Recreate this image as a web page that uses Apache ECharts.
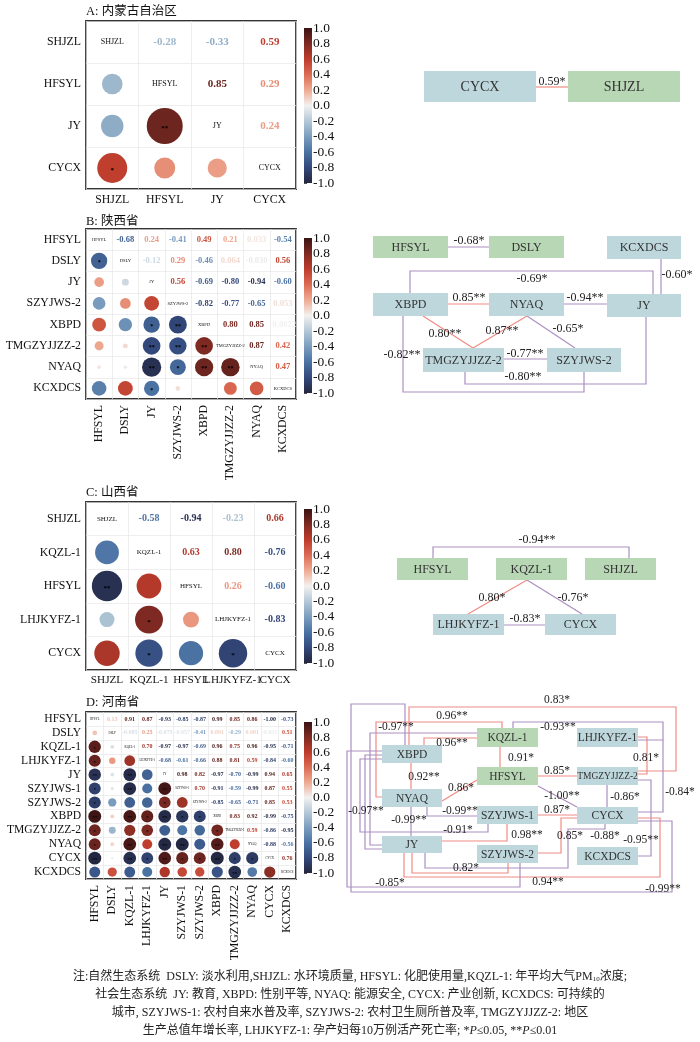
<!DOCTYPE html>
<html><head><meta charset="utf-8"><title>chart</title>
<script src="https://cdn.jsdelivr.net/npm/echarts@6.0.0/dist/echarts.min.js"></script>
<style>html,body{margin:0;padding:0;background:#fff;}#chart{width:700px;height:1042px;}</style>
</head><body><div id="chart"></div>
<script>
// ===================== DATA =====================
const varsA = ['SHJZL','HFSYL','JY','CYCX'];
const corrA = [[],[-0.28],[-0.33,0.85],[0.59,0.29,0.24]];
const sigA  = [[],[''],['','**'],['*','','']];

const varsB = ['HFSYL','DSLY','JY','SZYJWS-2','XBPD','TMGZYJJZZ-2','NYAQ','KCXDCS'];
const corrB = [[],[-0.68],[0.24,-0.12],[-0.41,0.29,0.56],[0.49,-0.46,-0.69,-0.82],
  [0.21,0.064,-0.80,-0.77,0.80],[0.033,-0.030,-0.94,-0.65,0.85,0.87],
  [-0.54,0.56,-0.60,0.053,-0.0022,0.42,0.47]];
const sigB = [[],['*'],['',''],['','',''],['','','*','**'],['','','**','**','**'],
  ['','','**','*','**','**'],['','','*','','','','']];

const varsC = ['SHJZL','KQZL-1','HFSYL','LHJKYFZ-1','CYCX'];
const corrC = [[],[-0.58],[-0.94,0.63],[-0.23,0.80,0.26],[0.66,-0.76,-0.60,-0.83]];
const sigC  = [[],[''],['**',''],['','*',''],['','*','','*']];

const varsD = ['HFSYL','DSLY','KQZL-1','LHJKYFZ-1','JY','SZYJWS-1','SZYJWS-2','XBPD','TMGZYJJZZ-2','NYAQ','CYCX','KCXDCS'];
const corrD = [[],
 [0.13],
 [0.91,-0.085],
 [0.87,0.25,0.70],
 [-0.93,-0.075,-0.97,-0.68],
 [-0.85,-0.057,-0.97,-0.61,0.98],
 [-0.87,-0.41,-0.69,-0.66,0.82,0.70],
 [0.99,0.091,0.96,0.88,-0.97,-0.91,-0.85],
 [0.85,-0.29,0.75,0.81,-0.70,-0.59,-0.65,0.83],
 [0.86,0.081,0.96,0.59,-0.99,-0.99,-0.71,0.92,0.59],
 [-1.00,-0.031,-0.95,-0.84,0.94,0.87,0.85,-0.99,-0.86,-0.88],
 [-0.73,0.51,-0.71,-0.60,0.65,0.55,0.53,-0.75,-0.95,-0.56,0.76]];
const sigD = [[],
 [''],
 ['*',''],
 ['*','',''],
 ['**','','**',''],
 ['*','','**','','**'],
 ['*','','','','*',''],
 ['**','','**','*','**','*','*'],
 ['*','','','*','','','','*'],
 ['*','','**','','**','**','','**',''],
 ['**','','**','*','**','*','*','**','*','*'],
 ['','','','','','','','','**','','']];

const naturalVars = ['DSLY','SHJZL','HFSYL','KQZL-1'];

const netEdgesA = [['CYCX','SHJZL',0.59,'*']];
const netEdgesB = [
 ['HFSYL','DSLY',-0.68,'*'],['KCXDCS','JY',-0.60,'*'],['XBPD','JY',-0.69,'*'],
 ['XBPD','NYAQ',0.85,'**'],['NYAQ','JY',-0.94,'**'],['XBPD','TMGZYJJZZ-2',0.80,'**'],
 ['NYAQ','TMGZYJJZZ-2',0.87,'**'],['NYAQ','SZYJWS-2',-0.65,'*'],['TMGZYJJZZ-2','SZYJWS-2',-0.77,'**'],
 ['TMGZYJJZZ-2','JY',-0.80,'**'],['XBPD','SZYJWS-2',-0.82,'**']];
const netEdgesC = [
 ['HFSYL','SHJZL',-0.94,'**'],['KQZL-1','LHJKYFZ-1',0.80,'*'],
 ['KQZL-1','CYCX',-0.76,'*'],['LHJKYFZ-1','CYCX',-0.83,'*']];
const netEdgesD = [
 ['XBPD','TMGZYJJZZ-2',0.83,'*'],['KQZL-1','NYAQ',0.96,'**'],['XBPD','KQZL-1',0.96,'**'],
 ['KQZL-1','JY',-0.97,'**'],['XBPD','JY',-0.97,'**'],['XBPD','CYCX',-0.99,'**'],
 ['HFSYL','JY',-0.93,'**'],['LHJKYFZ-1','CYCX',-0.84,'*'],['LHJKYFZ-1','TMGZYJJZZ-2',0.81,'*'],
 ['KQZL-1','HFSYL',0.91,'*'],['XBPD','NYAQ',0.92,'**'],['HFSYL','TMGZYJJZZ-2',0.85,'*'],
 ['HFSYL','NYAQ',0.86,'*'],['HFSYL','CYCX',-1.00,'**'],['TMGZYJJZZ-2','CYCX',-0.86,'*'],
 ['NYAQ','SZYJWS-1',-0.99,'**'],['NYAQ','JY',-0.99,'**'],['SZYJWS-1','CYCX',0.87,'*'],
 ['XBPD','SZYJWS-1',-0.91,'*'],['JY','SZYJWS-1',0.98,'**'],['SZYJWS-2','CYCX',0.85,'*'],
 ['NYAQ','CYCX',-0.88,'*'],['TMGZYJJZZ-2','KCXDCS',-0.95,'**'],['JY','SZYJWS-2',0.82,'*'],
 ['JY','CYCX',0.94,'**'],['XBPD','SZYJWS-2',-0.85,'*']];

const titles = ['A: 内蒙古自治区','B: 陕西省','C: 山西省','D: 河南省'];
const captionLines = [
 '注:自然生态系统  DSLY: 淡水利用,SHJZL: 水环境质量, HFSYL: 化肥使用量,KQZL-1: 年平均大气PM{sub|10}浓度;',
 '社会生态系统  JY: 教育, XBPD: 性别平等, NYAQ: 能源安全, CYCX: 产业创新, KCXDCS: 可持续的',
 '城市, SZYJWS-1: 农村自来水普及率, SZYJWS-2: 农村卫生厕所普及率, TMGZYJJZZ-2: 地区',
 '生产总值年增长率, LHJKYFZ-1: 孕产妇每10万例活产死亡率; *{i|P}≤0.05, **{i|P}≤0.01'];

// ===================== STYLE / LAYOUT =====================
const SERIF = '"Liberation Serif", "DejaVu Serif", serif';
const CJK = '"Liberation Serif", "Noto Sans CJK SC", serif';
const STOPS = [[-1,'#23263f'],[-0.8,'#33497c'],[-0.6,'#4a72a3'],[-0.4,'#7b9dbe'],[-0.2,'#b4c8d7'],
  [0,'#f3f1f0'],[0.2,'#efaa92'],[0.4,'#dc6b53'],[0.6,'#bd3c2c'],[0.8,'#7e2a22'],[1,'#3a1414']];
const POS = '#f08b84', NEG = '#ab8fc0';
const GREEN = '#b8d7b5', BLUE = '#bdd7dc';

const matLayouts = [
 {grid:{left:86,top:21,width:210,height:168}, cbar:{top:28,height:155}, rot:0, labFs:11.8, xFs:11.8, diagFs:8, valFs:11, starFs:7, titleY:12},
 {grid:{left:86,top:229,width:210,height:170}, cbar:{top:238,height:155}, rot:90, labFs:11.8, xFs:11.8, diagFs:4.5, valFs:8.5, starFs:6, titleY:222},
 {grid:{left:86,top:502,width:210,height:168}, cbar:{top:509,height:154}, rot:0, labFs:11.8, xFs:11.2, diagFs:7, valFs:10, starFs:7, titleY:493},
 {grid:{left:86,top:712,width:210,height:167}, cbar:{top:722,height:151}, rot:90, labFs:11.6, xFs:11.8, diagFs:3, valFs:6, starFs:5, titleY:703}
];

const netLayouts = [
 {fs:14, nodes:{'CYCX':[424,71,536,102],'SHJZL':[568,71,680,102]},
  routes:[[[536,87],[568,87]]], labels:[[552,82]]},
 {fs:12, nodes:{'HFSYL':[373,236,448,258],'DSLY':[489,236,564,258],'KCXDCS':[607,236,681,259],
   'XBPD':[373,293,448,316],'NYAQ':[489,293,564,316],'JY':[607,294,681,317],
   'TMGZYJJZZ-2':[423,348,504,372],'SZYJWS-2':[547,348,621,372]},
  routes:[[[448,247],[489,247]],[[661,259],[661,294]],[[410,293],[410,271],[653,271],[653,294]],
   [[448,304],[489,304]],[[564,304],[607,304]],[[423,316],[473,348]],[[527,316],[473,348]],
   [[527,316],[575,348]],[[504,359],[547,359]],[[465,372],[465,384],[646,384],[646,317]],
   [[403,316],[403,392],[584,392],[584,372]]],
  labels:[[469,241],[677,275],[532,279],[469,298],[585,298],[445,334],[502,331],[568,329],[525,354],[523,377],[402,355]]},
 {fs:12, nodes:{'HFSYL':[397,558,468,580],'KQZL-1':[496,558,567,580],'SHJZL':[585,558,656,580],
   'LHJKYFZ-1':[433,614,504,635],'CYCX':[545,614,616,635]},
  routes:[[[433,558],[433,547],[629,547],[629,558]],[[527,580],[468,614]],[[527,580],[582,614]],[[504,625],[545,625]]],
  labels:[[537,540],[492,598],[573,598],[525,619]]},
 {fs:11.5, nodeFs:{'TMGZYJJZZ-2':9.5},
  nodes:{'XBPD':[382,745,442,763],'KQZL-1':[477,728,538,747],'LHJKYFZ-1':[577,728,638,747],
   'HFSYL':[477,767,538,785],'TMGZYJJZZ-2':[577,767,638,785],'NYAQ':[382,789,442,807],
   'SZYJWS-1':[477,806,538,824],'CYCX':[577,807,638,824],'JY':[382,836,442,853],
   'SZYJWS-2':[477,845,538,863],'KCXDCS':[577,847,638,865]},
  routes:[
   [[409,745],[409,707],[676,707],[676,771],[638,771]],
   [[502,728],[502,722],[376,722],[376,797],[382,797]],
   [[477,738],[424,738],[424,745]],
   [[477,733],[370,733],[370,845],[382,845]],
   [[382,755],[365,755],[365,849],[382,849]],
   [[405,745],[405,704],[351,704],[351,892],[672,892],[672,821],[638,821]],
   [[513,728],[513,722],[663,722],[663,740]],
   [[638,740],[663,740],[663,812],[638,812]],
   [[638,737],[647,737],[647,774],[638,774]],
   [[500,747],[500,767]],
   [[411,763],[411,789]],
   [[538,776],[577,776]],
   [[477,780],[442,801]],
   [[538,786],[577,807]],
   [[607,785],[607,807]],
   [[427,807],[427,816],[477,816]],
   [[411,807],[411,836]],
   [[538,815],[577,815]],
   [[382,759],[360,759],[360,832],[488,832],[488,824]],
   [[442,841],[507,841],[507,824]],
   [[538,853],[561,853],[561,818],[577,818]],
   [[605,824],[605,829],[568,829],[568,868],[425,868],[425,853]],
   [[638,780],[651,780],[651,856],[638,856]],
   [[412,853],[412,873],[508,873],[508,863]],
   [[404,853],[404,877],[660,877],[660,818],[638,818]],
   [[382,751],[347,751],[347,887],[520,887],[520,863]]],
  labels:[[557,700],[452,716],[452,743],[396,727],[366,811],[663,889],[558,727],[680,792],[646,758],
   [521,758],[424,777],[557,771],[461,788],[562,796],[625,797],[460,811],[409,820],[557,810],
   [458,830],[527,835],[570,836],[605,836],[641,840],[466,868],[548,882],[390,883]]}
];

// ===================== HELPERS =====================
function hex2rgb(h){return [parseInt(h.substr(1,2),16),parseInt(h.substr(3,2),16),parseInt(h.substr(5,2),16)];}
function cmap(v){
  v = Math.max(-1, Math.min(1, v));
  for (let s=0; s<STOPS.length-1; s++){
    const a=STOPS[s], b=STOPS[s+1];
    if (v>=a[0] && v<=b[0]){
      const t=(v-a[0])/(b[0]-a[0]); const ca=hex2rgb(a[1]), cb=hex2rgb(b[1]);
      const c=ca.map((x,i)=>Math.round(x+(cb[i]-x)*t));
      return 'rgb('+c.join(',')+')';
    }
  }
  return STOPS[STOPS.length-1][1];
}
function fmt(r){ return Math.abs(r)>=0.1 ? r.toFixed(2) : r.toPrecision(2); }

function textSeries(g, items, z){
  return {type:'custom', xAxisIndex:g, yAxisIndex:g, silent:true, z:z, clip:false,
    data: items.map(it=>[it.x, it.y]),
    renderItem:(params, api)=>{
      const it = items[params.dataIndex];
      const pt = api.coord([api.value(0), api.value(1)]);
      return {type:'text', x:pt[0], y:pt[1]+(it.dy||0),
        style:{text:it.text, fill:it.fill, fontSize:it.fs, fontWeight:it.fw||'normal',
          fontFamily:SERIF, align:'center', verticalAlign:'middle'}};
    }};
}

const option = {animation:false, backgroundColor:'#fff', textStyle:{fontFamily:SERIF},
  grid:[], xAxis:[], yAxis:[], series:[], graphic:[]};

const panels = [[varsA,corrA,sigA],[varsB,corrB,sigB],[varsC,corrC,sigC],[varsD,corrD,sigD]];

panels.forEach((pd, idx)=>{
  const [vars, corr, sig] = pd; const L = matLayouts[idx];
  const gM = idx*2, gC = idx*2+1; const n = vars.length;
  const cw = L.grid.width/n, ch = L.grid.height/n, k = 0.93*Math.min(cw,ch);
  option.grid.push(Object.assign({show:true, borderColor:'#333', borderWidth:1.8, backgroundColor:'#fff'}, L.grid));
  option.grid.push({left:304, top:L.cbar.top, width:8, height:L.cbar.height});
  const axisCommon = {type:'category', gridIndex:gM, data:vars, axisLine:{show:false}, axisTick:{show:false},
    splitLine:{show:true, interval:0, lineStyle:{color:'#e6e6e6', width:0.7}}};
  option.xAxis.push(Object.assign({}, axisCommon, {position:'bottom',
    axisLabel:{interval:0, rotate:L.rot, fontSize:L.xFs, fontFamily:SERIF, color:'#111', margin:L.rot?6:5}}));
  option.yAxis.push(Object.assign({}, axisCommon, {inverse:true,
    axisLabel:{interval:0, fontSize:L.labFs, fontFamily:SERIF, color:'#111', margin:5}}));
  option.xAxis.push({type:'value', gridIndex:gC, min:0, max:1, show:false});
  option.yAxis.push({type:'value', gridIndex:gC, min:-1, max:1, interval:0.2, position:'right',
    axisLine:{show:false}, splitLine:{show:false},
    axisTick:{show:true, length:3, lineStyle:{color:'#222', width:0.8}},
    axisLabel:{fontSize:13.5, fontFamily:SERIF, color:'#111', margin:1,
      formatter:(v)=> Math.abs(v)<1e-9 ? '0.0' : v.toFixed(1)}});

  const circles=[], stars=[], vals=[], diag=[];
  for (let i=0;i<n;i++){
    diag.push({x:i, y:i, text:vars[i], fill:'#111', fs:L.diagFs});
    for (let j=0;j<i;j++){
      const r = corr[i][j];
      circles.push([j, i, r]);
      if (sig[i][j]) stars.push({x:j, y:i, text:sig[i][j], fill:'#000', fs:L.starFs, fw:'bold', dy:L.starFs*0.3});
      vals.push({x:i, y:j, text:fmt(r), fill:cmap(r), fs:L.valFs, fw:'bold'});
    }
  }
  option.series.push({type:'scatter', xAxisIndex:gM, yAxisIndex:gM, silent:true, z:2, data:circles,
    symbol:'circle', symbolSize:(v)=>k*Math.sqrt(Math.abs(v[2])),
    itemStyle:{color:(p)=>cmap(p.value[2]), opacity:1}});
  option.series.push(textSeries(gM, stars, 3));
  option.series.push(textSeries(gM, vals, 3));
  option.series.push(textSeries(gM, diag, 3));
  option.series.push({type:'custom', xAxisIndex:gC, yAxisIndex:gC, silent:true, data:[[0,0]],
    renderItem:(params, api)=>{
      const p0 = api.coord([0,1]), p1 = api.coord([1,-1]);
      return {type:'rect', shape:{x:p0[0], y:p0[1], width:p1[0]-p0[0], height:p1[1]-p0[1]},
        style:{fill:{type:'linear', x:0, y:0, x2:0, y2:1,
          colorStops:STOPS.slice().reverse().map(s=>({offset:(1-s[0])/2, color:s[1]}))}}};
    }});
  option.graphic.push({type:'text', x:86, y:L.titleY,
    style:{text:titles[idx], fontSize:12.5, fontFamily:CJK, fill:'#111', verticalAlign:'middle'}});
});

// network grid (page-pixel layout space)
const gN = 8;
option.grid.push({left:0, top:0, width:700, height:1042, show:false});
option.xAxis.push({type:'value', gridIndex:gN, min:0, max:700, show:false});
option.yAxis.push({type:'value', gridIndex:gN, min:0, max:1042, inverse:true, show:false});

[netEdgesA, netEdgesB, netEdgesC, netEdgesD].forEach((edges, idx)=>{
  const L = netLayouts[idx];
  const names = Object.keys(L.nodes);
  option.series.push({type:'lines', coordinateSystem:'cartesian2d', xAxisIndex:gN, yAxisIndex:gN,
    polyline:true, silent:true, z:1,
    data: edges.map((e,i)=>({coords:L.routes[i], lineStyle:{color:e[2]>0?POS:NEG, width:1.2, opacity:1}}))});
  option.series.push({type:'custom', xAxisIndex:gN, yAxisIndex:gN, silent:true, z:2, clip:false,
    data: names.map(nm=>L.nodes[nm]),
    renderItem:(params, api)=>{
      const nm = names[params.dataIndex];
      const p0 = api.coord([api.value(0), api.value(1)]), p1 = api.coord([api.value(2), api.value(3)]);
      const fs = (L.nodeFs && L.nodeFs[nm]) || L.fs;
      return {type:'group', children:[
        {type:'rect', shape:{x:p0[0], y:p0[1], width:p1[0]-p0[0], height:p1[1]-p0[1]},
          style:{fill: naturalVars.indexOf(nm)>=0 ? GREEN : BLUE}},
        {type:'text', x:(p0[0]+p1[0])/2, y:(p0[1]+p1[1])/2+0.5,
          style:{text:nm, fill:'#333', fontSize:fs, fontFamily:SERIF, align:'center', verticalAlign:'middle'}}]};
    }});
  const labs = edges.map((e,i)=>({x:L.labels[i][0], y:L.labels[i][1], text:e[2].toFixed(2)+e[3],
    fill:'#222', fs: idx===3 ? 11.5 : 12}));
  option.series.push(textSeries(gN, labs, 4));
});

// caption
const capY = [977, 995, 1013, 1031];
captionLines.forEach((t,i)=>{
  option.graphic.push({type:'text', x:350, y:capY[i],
    style:{text:t, fontSize:12, fontFamily:CJK, fill:'#222', align:'center', verticalAlign:'middle',
      rich:{sub:{fontSize:7, fontFamily:CJK, fill:'#222', verticalAlign:'bottom', padding:[4,0,0,0]},
            i:{fontSize:12, fontFamily:CJK, fill:'#222', fontStyle:'italic'}}}});
});

const chart = echarts.init(document.getElementById('chart'), null, {renderer:'canvas', width:700, height:1042});
chart.setOption(option);
</script></body></html>
